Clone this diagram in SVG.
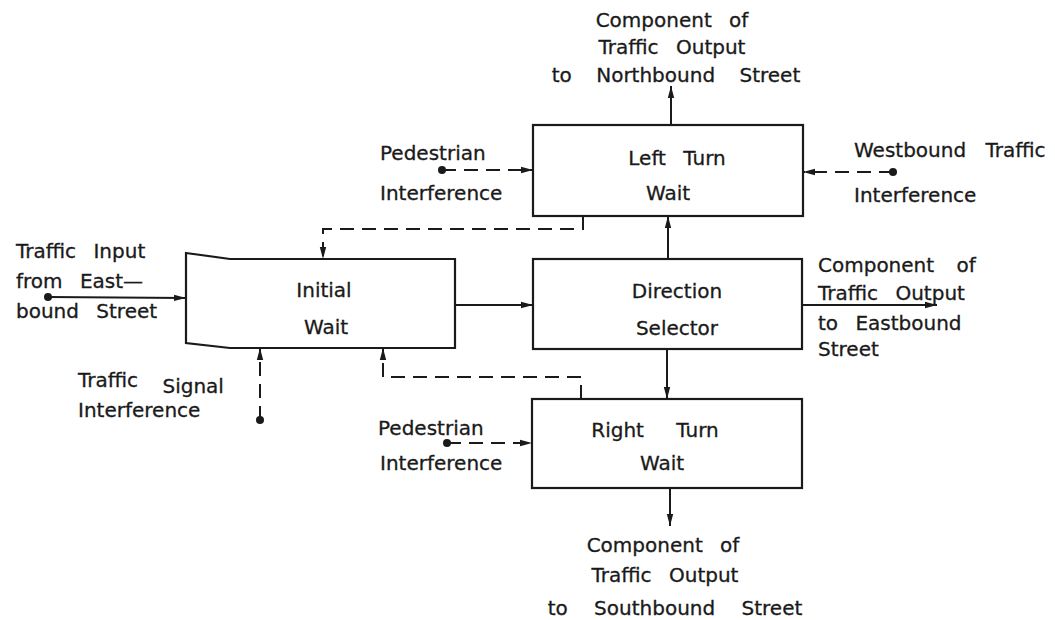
<svg xmlns="http://www.w3.org/2000/svg" width="1055" height="620" viewBox="0 0 1055 620">
<style>
.box{fill:none;stroke:#1a1a1a;stroke-width:2.2}
.ln{fill:none;stroke:#1a1a1a;stroke-width:2}
.ds{fill:none;stroke:#1a1a1a;stroke-width:2;stroke-dasharray:14 8}
.dot{fill:#1a1a1a}
text{font-family:"DejaVu Sans","Liberation Sans",sans-serif;font-size:20px;fill:#1a1a1a;stroke:#1a1a1a;stroke-width:0.3;word-spacing:11px}
.m{text-anchor:middle}
</style>
<defs>
<marker id="ah" viewBox="0 0 12 8" refX="12" refY="4" markerWidth="12" markerHeight="8" markerUnits="userSpaceOnUse" orient="auto">
<path d="M0,0.8 L12,4 L0,7.2 z" fill="#1a1a1a"/>
</marker>
</defs>
<rect width="1055" height="620" fill="#fff"/>

<g id="initial-wait">
<path class="box" d="M186,253 L230,259 L455,259 L455,348 L230,348 L186,343 Z"/>
<text class="m" x="324" y="297">Initial</text>
<text class="m" x="326" y="334">Wait</text>
</g>

<g id="direction-selector">
<rect class="box" x="533" y="259" width="269" height="90"/>
<text class="m" x="677" y="298">Direction</text>
<text class="m" x="677" y="335">Selector</text>
</g>

<g id="left-turn-wait">
<rect class="box" x="533" y="125" width="270" height="91"/>
<text class="m" x="677" y="165">Left Turn</text>
<text class="m" x="668" y="200">Wait</text>
</g>

<g id="right-turn-wait">
<rect class="box" x="532" y="399" width="270" height="89"/>
<text class="m" x="655" y="437" style="word-spacing:26px">Right Turn</text>
<text class="m" x="662" y="470">Wait</text>
</g>

<g id="labels">
<text class="m" x="672" y="27">Component of</text>
<text class="m" x="672" y="54">Traffic Output</text>
<text class="m" x="676" y="82" style="word-spacing:18px">to Northbound Street</text>

<text class="m" x="663" y="552">Component of</text>
<text class="m" x="665" y="582">Traffic Output</text>
<text class="m" x="675" y="615" style="word-spacing:20px">to Southbound Street</text>

<text x="818" y="272" style="word-spacing:16px">Component of</text>
<text x="818" y="300">Traffic Output</text>
<text x="818" y="330">to Eastbound</text>
<text x="818" y="356">Street</text>

<text x="380" y="160">Pedestrian</text>
<text x="380" y="200">Interference</text>

<text x="854" y="157" style="word-spacing:13px">Westbound Traffic</text>
<text x="854" y="202">Interference</text>

<text x="378" y="435">Pedestrian</text>
<text x="380" y="470">Interference</text>

<text x="16" y="258">Traffic Input</text>
<text x="16" y="288">from East—</text>
<text x="16" y="318">bound Street</text>

<text x="78" y="387" style="word-spacing:18px">Traffic <tspan y="393">Signal</tspan></text>
<text x="78" y="417">Interference</text>
</g>

<g id="connectors">
<circle class="dot" cx="48" cy="297" r="4"/>
<line class="ln" x1="48" y1="297" x2="186" y2="298" marker-end="url(#ah)"/>
<line class="ln" x1="455" y1="305" x2="533" y2="305" marker-end="url(#ah)"/>
<line class="ln" x1="668" y1="259" x2="668" y2="216" marker-end="url(#ah)"/>
<line class="ln" x1="671" y1="125" x2="671" y2="86" marker-end="url(#ah)"/>
<line class="ln" x1="667" y1="349" x2="667" y2="399" marker-end="url(#ah)"/>
<line class="ln" x1="670" y1="488" x2="670" y2="526" marker-end="url(#ah)"/>
<line class="ln" x1="802" y1="305" x2="937" y2="305" marker-end="url(#ah)"/>

<polyline class="ds" points="583,216 583,229 323,229 323,259" marker-end="url(#ah)"/>
<polyline class="ds" points="581,399 581,377 383,377 383,348" marker-end="url(#ah)"/>

<circle class="dot" cx="260" cy="420" r="4"/>
<line class="ds" x1="260" y1="420" x2="260" y2="348" marker-end="url(#ah)"/>

<circle class="dot" cx="442" cy="170" r="4"/>
<line class="ds" x1="442" y1="170" x2="533" y2="170" marker-end="url(#ah)"/>

<circle class="dot" cx="893" cy="172" r="4"/>
<line class="ds" x1="893" y1="172" x2="803" y2="172" marker-end="url(#ah)"/>

<circle class="dot" cx="447" cy="443" r="4"/>
<line class="ds" x1="447" y1="443" x2="532" y2="443" marker-end="url(#ah)"/>
</g>
</svg>
